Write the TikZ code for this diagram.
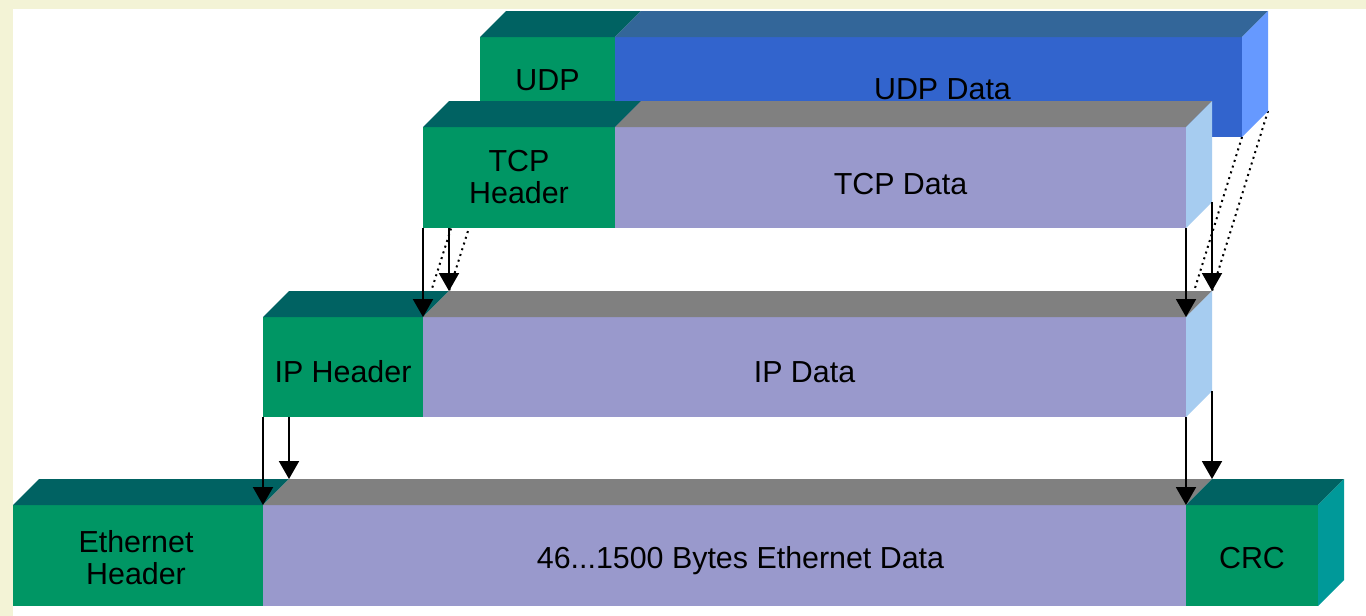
\documentclass[tikz,border=0pt]{standalone}
\usepackage{fontspec}
\setmainfont{Liberation Sans}
\usetikzlibrary{arrows.meta,fit}
\definecolor{cream}{RGB}{243,243,214}
\definecolor{hdrgreen}{RGB}{0,150,100}
\definecolor{hdrtop}{RGB}{0,98,98}
\definecolor{crcside}{RGB}{0,153,153}
\definecolor{datafront}{RGB}{153,153,204}
\definecolor{datatop}{RGB}{128,128,128}
\definecolor{dataside}{RGB}{166,204,240}
\definecolor{udpfront}{RGB}{50,100,205}
\definecolor{udptop}{RGB}{51,102,153}
\definecolor{udpside}{RGB}{102,153,255}
\pgfdeclarelayer{paper}
\pgfdeclarelayer{behind}
\pgfsetlayers{paper,behind,main}
\tikzset{
	face/.style={inner sep=0pt, outer sep=0pt},
	hdr/.style={face, fill=hdrgreen},
	payload/.style={face, fill=datafront},
	udppayload/.style={face, fill=udpfront},
	lbl/.style={align=center, text=black, font=\fontsize{15.2}{16}\selectfont},
	feed/.style={-{Triangle[width=10pt,length=9pt]}, line width=1pt},
	trace/.style={line width=1pt, dash pattern=on 1pt off 2pt},
}
% top and side faces of a front face node
\newcommand{\topface}[2]{\fill[#2] (#1.north west) -- ++(26,-26) -- ([shift={(26,-26)}]#1.north east) -- (#1.north east) -- cycle;}
\newcommand{\sideface}[2]{\fill[#2] (#1.north east) -- ++(26,-26) -- ([shift={(26,-26)}]#1.south east) -- (#1.south east) -- cycle;}
\begin{document}
\begin{tikzpicture}[x=0.5pt,y=-0.5pt]
	\useasboundingbox (0,0) rectangle (1366,616);
	\begin{pgfonlayer}{paper}
		\fill[cream] (0,0) rectangle (1366,616);
		\fill[white] (13,9) rectangle (1366,616);
	\end{pgfonlayer}
	% UDP
	\node[hdr, fit={(480,37) (615,137)}] (udph) {};
	\node[udppayload, fit={(615,37) (1242,137)}] (udpd) {};
	\topface{udph}{hdrtop} \topface{udpd}{udptop} \sideface{udpd}{udpside}
	\node[lbl] (udphtext) at ([yshift=3.5pt]udph) {UDP};
	\node[lbl] (udpdtext) at ([shift={(14,2)}]udpd) {UDP Data};
	% TCP
	\node[hdr, fit={(423,127) (615,228)}] (tcph) {};
	\node[payload, fit={(615,127) (1186,228)}] (tcpd) {};
	\topface{tcph}{hdrtop} \topface{tcpd}{datatop} \sideface{tcpd}{dataside}
	\node[lbl] (tcphtext) at (tcph) {TCP\\Header};
	\node[lbl] (tcpdtext) at ([yshift=-3.5pt]tcpd) {TCP Data};
	% IP
	\node[hdr, fit={(263,317) (423,417)}] (iph) {};
	\node[payload, fit={(423,317) (1186,417)}] (ipd) {};
	\topface{iph}{hdrtop} \topface{ipd}{datatop} \sideface{ipd}{dataside}
	\node[lbl] (iphtext) at ([yshift=-2.5pt]iph) {IP Header};
	\node[lbl] (ipdtext) at ([yshift=-2.5pt]ipd) {IP Data};
	% Ethernet
	\node[hdr, fit={(13,505) (263,606)}] (ethh) {};
	\node[payload, fit={(263,505) (1186,606)}] (ethd) {};
	\node[hdr, fit={(1186,505) (1318,606)}] (crc) {};
	\topface{ethh}{hdrtop} \topface{ethd}{datatop} \topface{crc}{hdrtop} \sideface{crc}{crcside}
	\node[lbl] (ethhtext) at ([shift={(-2,2)}]ethh) {Ethernet\\Header};
	\node[lbl] (ethdtext) at ([shift={(16,5)}]ethd) {46...1500 Bytes Ethernet Data};
	\node[lbl] (crctext) at ([yshift=-1.5pt]crc) {CRC};
	% UDP mapped into IP, partly hidden
	\begin{pgfonlayer}{behind}
		\draw[trace] (udph.south west) -- (iph.north east);
		\draw[trace] ([shift={(26,-26)}]udph.south west) -- ([shift={(26,-26)}]iph.north east);
		\draw[trace] (udpd.south east) -- (ipd.north east);
		\draw[trace] ([shift={(26,-26)}]udpd.south east) -- ([shift={(26,-26)}]ipd.north east);
	\end{pgfonlayer}
	% TCP into IP
	\draw[feed] (tcph.south west) -- (iph.north east);
	\draw[feed] ([xshift=13pt]tcph.south west) -- ([shift={(26,-26)}]iph.north east);
	\draw[feed] (tcpd.south east) -- (ipd.north east);
	\draw[feed] ([shift={(26,-26)}]tcpd.south east) -- ([shift={(26,-26)}]ipd.north east);
	% IP into Ethernet
	\draw[feed] (iph.south west) -- (ethh.north east);
	\draw[feed] ([xshift=13pt]iph.south west) -- ([shift={(26,-26)}]ethh.north east);
	\draw[feed] (ipd.south east) -- (ethd.north east);
	\draw[feed] ([shift={(26,-26)}]ipd.south east) -- ([shift={(26,-26)}]ethd.north east);
\end{tikzpicture}
\end{document}
